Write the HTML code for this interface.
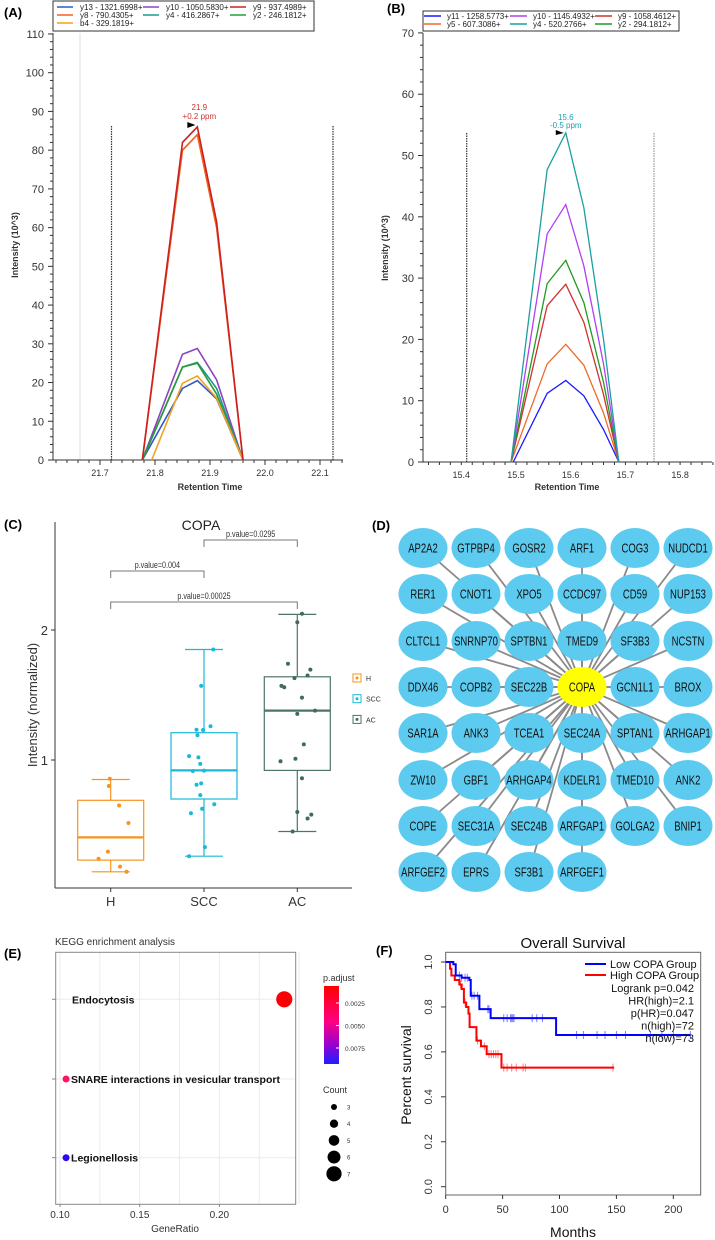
<!DOCTYPE html>
<html><head><meta charset="utf-8">
<style>
html,body{margin:0;padding:0;background:#fff;}
svg{display:block;font-family:"Liberation Sans",sans-serif;}
</style></head>
<body>
<svg id="fig" width="715" height="1240" viewBox="0 0 715 1240" xmlns="http://www.w3.org/2000/svg">
<g id="gA"></g>
<g id="gB"></g>
<g id="gC"></g>
<g id="gD"></g>
<g id="gE"></g>
<g id="gF"></g>
</svg>
<script>
// ---------- Panel A data ----------
const aRT = [21.777, 21.850, 21.877, 21.912, 21.960];
const aNames = ["y13 - 1321.6998+","y10 - 1050.5830+","y9 - 937.4989+","y8 - 790.4305+","y4 - 416.2867+","y2 - 246.1812+","b4 - 329.1819+"];
const aColors = ["#2e5cc0","#8e44c0","#cc2020","#f06020","#1a9a8a","#2a9a3a","#f5a020"];
const aY13 = [0,18.5,20.5,15.8,0];
const aY10 = [0,27.3,28.8,20.7,0];
const aY9 = [0,82,86,61.5,0];
const aY8 = [0,80,84,60,0];
const aY4 = [0,24,25.2,18.5,0];
const aY2 = [0,24,25,17,0];
const aB4 = [0,19.8,21.7,16,0];
const aXTicks = [21.7,21.8,21.9,22.0,22.1];
const aYTicks = [0,10,20,30,40,50,60,70,80,90,100,110];
// ---------- Panel B data ----------
const bRT = [15.491, 15.557, 15.591, 15.624, 15.660, 15.688];
const bNames = ["y11 - 1258.5773+","y10 - 1145.4932+","y9 - 1058.4612+","y5 - 607.3086+","y4 - 520.2766+","y2 - 294.1812+"];
const bColors = ["#1a1aff","#b040f0","#d03030","#f06a2a","#1aa0a0","#209a20"];
const bY11 = [0,11.2,13.3,10.8,5.3,0];
const bY10 = [0,37.2,42,32,16,0];
const bY9 = [0,25.5,29,22.8,11,0];
const bY5 = [0,16,19.2,15.8,8,0];
const bY4 = [0,47.7,53.7,41.5,20,0];
const bY2 = [0,29.1,32.9,26,13,0];
const bXTicks = [15.4,15.5,15.6,15.7,15.8];
const bYTicks = [0,10,20,30,40,50,60,70];
// ---------- Panel C data ----------
const cGroups = ["H","SCC","AC"];
const cColors = ["#f7941d","#1cb8d8","#3f6b5c"];
const cBoxColors = ["#f7941d","#1cb8d8","#4d7566"];
const cMin = [0.14,0.26,0.45];
const cQ1 = [0.23,0.70,0.92];
const cMed = [0.405,0.92,1.38];
const cQ3 = [0.69,1.21,1.64];
const cMax = [0.85,1.85,2.12];
const cH = [0.856,0.80,0.65,0.515,0.295,0.24,0.18,0.14];
const cSCC = [1.85,1.57,1.26,1.233,1.231,1.19,1.03,1.02,0.97,0.915,0.918,0.81,0.82,0.73,0.66,0.625,0.59,0.33,0.26];
const cAC = [2.125,2.06,1.74,1.695,1.63,1.65,1.57,1.56,1.48,1.355,1.38,1.12,0.99,1.01,0.86,0.60,0.58,0.55,0.45];
const cJitH = [-0.01,-0.02,0.09,0.19,-0.03,-0.13,0.10,0.17];
const cJitSCC = [0.10,-0.03,0.07,-0.08,-0.01,-0.07,-0.16,-0.06,-0.04,-0.12,0,-0.08,-0.03,-0.04,0.11,-0.02,-0.14,0.01,-0.16];
const cJitAC = [0.05,0,-0.10,0.14,-0.03,0.11,-0.17,-0.14,0.05,0,0.19,0.07,-0.18,-0.02,0.05,0,0.15,0.11,-0.05];
const cYTicks = [1,2];
const cPvals = ["p.value=0.004","p.value=0.00025","p.value=0.0295"];
// ---------- Panel D data ----------
const dRows = [
 ["AP2A2","GTPBP4","GOSR2","ARF1","COG3","NUDCD1"],
 ["RER1","CNOT1","XPO5","CCDC97","CD59","NUP153"],
 ["CLTCL1","SNRNP70","SPTBN1","TMED9","SF3B3","NCSTN"],
 ["DDX46","COPB2","SEC22B","COPA","GCN1L1","BROX"],
 ["SAR1A","ANK3","TCEA1","SEC24A","SPTAN1","ARHGAP1"],
 ["ZW10","GBF1","ARHGAP4","KDELR1","TMED10","ANK2"],
 ["COPE","SEC31A","SEC24B","ARFGAP1","GOLGA2","BNIP1"],
 ["ARFGEF2","EPRS","SF3B1","ARFGEF1"]];
// ---------- Panel E data ----------
const eTerms = ["Endocytosis","SNARE interactions in vesicular transport","Legionellosis"];
const eRatio = [0.2407,0.1038,0.1038];
const eCount = [7,3,3];
const ePadj = [0.0012,0.0030,0.0085];
const eXTicks = [0.10,0.15,0.20];
const eCountLegend = [3,4,5,6,7];
const ePadjTicks = ["0.0025","0.0050","0.0075"];
// ---------- Panel F data ----------
const fLowT = [0,6.7,8.8,14,20.8,22,29.6,39.5,97,215];
const fLowS = [1.0,0.99,0.94,0.93,0.92,0.85,0.79,0.75,0.675,0.675];
const fHighT = [0,3.8,5,8,12,14,16,18,20,21,27,31,36,49,148];
const fHighS = [1.0,0.97,0.94,0.92,0.90,0.88,0.82,0.80,0.77,0.71,0.65,0.625,0.59,0.53,0.53];
const fLowCens = [12,14,17,19,23,25,28,37,38,51,54,57,58,59,60,76,80,85,115,121,133,140,150,158,180,190,200,215];
const fHighCens = [13,17,28,34,38,40,42,44,46,51,54,58,62,68,70,147];
const fXTicks = [0,50,100,150,200];
const fYTicks = [0,0.2,0.4,0.6,0.8,1.0];
const fStats = ["Logrank p=0.042","HR(high)=2.1","p(HR)=0.047","n(high)=72","n(low)=73"];

const NS="http://www.w3.org/2000/svg";
function mk(parent,tag,attrs,text){const e=document.createElementNS(NS,tag);for(const k in attrs)e.setAttribute(k,attrs[k]);if(text!==undefined)e.textContent=text;parent.appendChild(e);return e;}

// ===== Panel A =====
(function(){
 const g=document.getElementById('gA');
 const xA=rt=>100+(rt-21.7)*550, yA=v=>460-v*3.873;
 let t=mk(g,'text',{x:4,y:17,'font-size':13,'font-weight':'bold'},'(A)');
 
 let lb=mk(g,'rect',{x:53,y:1,width:261,height:30,fill:'#fff',stroke:'#333','stroke-width':1});
 
 const lx=[57,143,230], ly=[7,15,23];
 const order=[0,1,2,3,4,5,6];
 order.forEach((i,k)=>{const cx=lx[k%3],cy=ly[Math.floor(k/3)];
  let l=mk(g,'line',{x1:cx,x2:cx+16,y1:cy,y2:cy,stroke:aColors[i],'stroke-width':1.5});
  
  mk(g,'text',{x:cx+23,y:cy+3,'font-size':8,fill:'#222'},aNames[i]);});
 mk(g,'line',{x1:80,x2:80,y1:33,y2:460,stroke:'#ddd','stroke-width':1});
 mk(g,'line',{x1:111.5,x2:111.5,y1:126,y2:460,stroke:'#333','stroke-width':1.2,'stroke-dasharray':'1.5,1'});
 mk(g,'line',{x1:333,x2:333,y1:126,y2:460,stroke:'#333','stroke-width':1.2,'stroke-dasharray':'1.5,1'});
 mk(g,'line',{x1:53,x2:53,y1:33,y2:460,stroke:'#333'});
 mk(g,'line',{x1:53,x2:343,y1:460,y2:460,stroke:'#333'});
 for(let v=0;v<=110;v+=2){const y=yA(v);mk(g,'line',{x1:v%10===0?48:50,x2:53,y1:y,y2:y,stroke:'#333'});}
 aYTicks.forEach(v=>{mk(g,'text',{x:44,y:yA(v)+4,'font-size':11,'text-anchor':'end',fill:'#333'},v);});
 for(let r=21.62;r<=22.15;r+=0.02){const x=xA(r);mk(g,'line',{x1:x,x2:x,y1:460,y2:Math.abs((r*10)-Math.round(r*10))<0.01?465:463,stroke:'#333'});}
 aXTicks.forEach(r=>mk(g,'text',{x:xA(r),y:476,'font-size':9,'text-anchor':'middle',fill:'#333'},r.toFixed(1)));
 let at=mk(g,'text',{x:xA(21.9),y:490,'font-size':9,'font-weight':'bold','text-anchor':'middle',fill:'#333'},'Retention Time');
 
 let yt=mk(g,'text',{x:0,y:0,'font-size':9,'font-weight':'bold','text-anchor':'middle',fill:'#333',transform:'translate(18,245) rotate(-90)'},'Intensity (10^3)');
 
 const series=[aY13,aY10,aY4,aY2,aB4,aY8,aY9]; const sc=[0,1,4,5,6,3,2];
 series.forEach((s,k)=>{const pts=s.map((v,i)=>xA(aRT[i]+(sc[k]===6&&i===0?0.017:0))+','+yA(v)).join(' ');
  let p=mk(g,'polyline',{points:pts,fill:'none',stroke:aColors[sc[k]],'stroke-width':1.6});
  });
 mk(g,'text',{x:xA(aRT[2])+2,y:110,'font-size':8,'text-anchor':'middle',fill:'#d03030'},'21.9');
 mk(g,'text',{x:xA(aRT[2])+2,y:119,'font-size':8,'text-anchor':'middle',fill:'#d03030'},'+0.2 ppm');
 mk(g,'polygon',{points:`${xA(aRT[2])-10},122 ${xA(aRT[2])-2},125 ${xA(aRT[2])-10},128`,fill:'#000'});
})();

// ===== Panel B =====
(function(){
 const g=document.getElementById('gB');
 const xB=rt=>516+(rt-15.5)*547, yB=v=>462-v*6.13;
 let t=mk(g,'text',{x:387,y:13,'font-size':13,'font-weight':'bold'},'(B)');
 
 let lb=mk(g,'rect',{x:423,y:11,width:256,height:20,fill:'#fff',stroke:'#333','stroke-width':1});
 
 const lx=[424,510,595], ly=[16,24];
 bNames.forEach((n,k)=>{const cx=lx[k%3],cy=ly[Math.floor(k/3)];
  let l=mk(g,'line',{x1:cx,x2:cx+17,y1:cy,y2:cy,stroke:bColors[k],'stroke-width':1.5});
  
  mk(g,'text',{x:cx+23,y:cy+3,'font-size':8,fill:'#222'},n);});
 mk(g,'line',{x1:466.7,x2:466.7,y1:133,y2:462,stroke:'#333','stroke-width':1.2,'stroke-dasharray':'1.5,1'});
 mk(g,'line',{x1:654,x2:654,y1:133,y2:462,stroke:'#999','stroke-width':1.2,'stroke-dasharray':'1.5,1'});
 mk(g,'line',{x1:423,x2:423,y1:33,y2:462,stroke:'#333'});
 mk(g,'line',{x1:423,x2:712,y1:462,y2:462,stroke:'#333'});
 for(let v=0;v<=70;v+=2){const y=yB(v);mk(g,'line',{x1:v%10===0?418:420,x2:423,y1:y,y2:y,stroke:'#333'});}
 bYTicks.forEach(v=>mk(g,'text',{x:414,y:yB(v)+4,'font-size':11,'text-anchor':'end',fill:'#333'},v));
 for(let r=15.34;r<=15.86;r+=0.02){const x=xB(r);mk(g,'line',{x1:x,x2:x,y1:462,y2:465,stroke:'#333'});}
 bXTicks.forEach(r=>mk(g,'text',{x:xB(r),y:478,'font-size':9,'text-anchor':'middle',fill:'#333'},r.toFixed(1)));
 let at=mk(g,'text',{x:567,y:490,'font-size':9,'font-weight':'bold','text-anchor':'middle',fill:'#333'},'Retention Time');
 
 let yt=mk(g,'text',{x:0,y:0,'font-size':9,'font-weight':'bold','text-anchor':'middle',fill:'#333',transform:'translate(388,248) rotate(-90)'},'Intensity (10^3)');
 
 const series=[bY11,bY5,bY9,bY2,bY10,bY4]; const sc=[0,3,2,5,1,4];
 series.forEach((s,k)=>{const pts=s.map((v,i)=>xB(bRT[i]+(i===0&&sc[k]===0?0.004:0))+','+yB(v)).join(' ');
  let p=mk(g,'polyline',{points:pts,fill:'none',stroke:bColors[sc[k]],'stroke-width':1.3});
  });
 const px=xB(bRT[2]);
 mk(g,'text',{x:px,y:120,'font-size':8,'text-anchor':'middle',fill:'#1aa0b0'},'15.6');
 mk(g,'text',{x:px,y:128,'font-size':8,'text-anchor':'middle',fill:'#1aa0b0'},'-0.5 ppm');
 mk(g,'polygon',{points:`${px-10},130 ${px-2},133 ${px-10},135`,fill:'#000'});
})();

// ===== Panel C =====
(function(){
 const g=document.getElementById('gC');
 const xC=i=>110.7+i*93.3, yC=v=>890-v*130;
 let t=mk(g,'text',{x:4,y:529,'font-size':13,'font-weight':'bold'},'(C)');
 
 let ti=mk(g,'text',{x:201,y:530,'font-size':14,'text-anchor':'middle',fill:'#222'},'COPA');
 
 mk(g,'line',{x1:55,x2:55,y1:522,y2:888,stroke:'#333'});
 mk(g,'line',{x1:55,x2:352,y1:888,y2:888,stroke:'#333'});
 cYTicks.forEach(v=>{mk(g,'line',{x1:51,x2:55,y1:yC(v),y2:yC(v),stroke:'#333'});
  mk(g,'text',{x:48,y:yC(v)+5,'font-size':13,'text-anchor':'end',fill:'#333'},v);});
 cGroups.forEach((n,i)=>{mk(g,'line',{x1:xC(i),x2:xC(i),y1:888,y2:892,stroke:'#333'});
  let l=mk(g,'text',{x:xC(i),y:906,'font-size':13,'text-anchor':'middle',fill:'#333'},n);
  });
 let yt=mk(g,'text',{x:0,y:0,'font-size':13,'text-anchor':'middle',fill:'#333',transform:'translate(37,705) rotate(-90)'},'Intensity (normalized)');
 
 const pts=[cH,cSCC,cAC], jit=[cJitH,cJitSCC,cJitAC];
 cGroups.forEach((n,i)=>{const x=xC(i),c=cBoxColors[i],hw=33;
  const bg=mk(g,'g',{});
  mk(bg,'line',{x1:x,x2:x,y1:yC(cMin[i]),y2:yC(cQ1[i]),stroke:c,'stroke-width':1.2});
  mk(bg,'line',{x1:x,x2:x,y1:yC(cQ3[i]),y2:yC(cMax[i]),stroke:c,'stroke-width':1.2});
  mk(bg,'line',{x1:x-19,x2:x+19,y1:yC(cMin[i]),y2:yC(cMin[i]),stroke:c,'stroke-width':1.2});
  mk(bg,'line',{x1:x-19,x2:x+19,y1:yC(cMax[i]),y2:yC(cMax[i]),stroke:c,'stroke-width':1.2});
  mk(bg,'rect',{x:x-hw,y:yC(cQ3[i]),width:2*hw,height:yC(cQ1[i])-yC(cQ3[i]),fill:'none',stroke:c,'stroke-width':1.2});
  mk(bg,'line',{x1:x-hw,x2:x+hw,y1:yC(cMed[i]),y2:yC(cMed[i]),stroke:c,'stroke-width':2.2});
  pts[i].forEach((v,k)=>{let d=mk(g,'circle',{cx:x+jit[i][k]*93.3,cy:yC(v),r:2,fill:cColors[i]});
   });
 });
 const br=[[0,1,571,cPvals[0]],[0,2,602,cPvals[1]],[1,2,540,cPvals[2]]];
 br.forEach(b=>{const x1=xC(b[0]),x2=xC(b[1]);
  let p=mk(g,'path',{d:`M${x1},${b[2]+7}V${b[2]}H${x2}V${b[2]+7}`,fill:'none',stroke:'#777','stroke-width':1});
  
  mk(g,'text',{x:0,y:0,transform:`translate(${(x1+x2)/2},${b[2]-3}) scale(0.8,1)`,'font-size':9,'text-anchor':'middle',fill:'#333'},b[3]);});
 cGroups.forEach((n,i)=>{const y=678+i*20.7;
  let r=mk(g,'rect',{x:353,y:y-4,width:8,height:8,fill:'none',stroke:cBoxColors[i],'stroke-width':1});
  
  mk(g,'circle',{cx:357,cy:y,r:1.5,fill:cColors[i]});
  mk(g,'text',{x:366,y:y+3,'font-size':7,fill:'#333'},n);});
})();

// ===== Panel D =====
(function(){
 const g=document.getElementById('gD');
 const colX=[423,476,529,582,635,688], rowY=[548,594,641,687,733,780,826,872];
 let t=mk(g,'text',{x:372,y:530,'font-size':13,'font-weight':'bold'},'(D)');
 
 const cx=colX[3],cy=rowY[3];
 const eg=mk(g,'g',{});
 dRows.forEach((row,r)=>row.forEach((n,c)=>{if(n!=='COPA')mk(eg,'line',{x1:colX[c],y1:rowY[r],x2:cx,y2:cy,stroke:'#8a8a8a','stroke-width':1.8});}));
 dRows.forEach((row,r)=>row.forEach((n,c)=>{
  const ng=mk(g,'g',{});
  mk(ng,'ellipse',{cx:colX[c],cy:rowY[r],rx:24.5,ry:20,fill:n==='COPA'?'#ffff00':'#5ccbef'});
  mk(ng,'text',{x:0,y:0,transform:`translate(${colX[c]},${rowY[r]+4.5}) scale(0.76,1)`,'font-size':12.5,'text-anchor':'middle',fill:'#111'},n);
 }));
})();

// ===== Panel E =====
(function(){
 const g=document.getElementById('gE');
 const xE=r=>60+(r-0.10)/0.05*79.7, rowY=[999.3,1079,1157.7];
 const rE=c=>3.5+(c-3)*1.15;
 let t=mk(g,'text',{x:4,y:958,'font-size':13,'font-weight':'bold'},'(E)');
 
 let ti=mk(g,'text',{x:55,y:945,'font-size':10,fill:'#333'},'KEGG enrichment analysis');
 
 for(let r=0.1;r<0.25;r+=0.025)mk(g,'line',{x1:xE(r),x2:xE(r),y1:952,y2:1204,stroke:'#ebebeb','stroke-width':1});
 rowY.forEach(y=>mk(g,'line',{x1:56,x2:295,y1:y,y2:y,stroke:'#ebebeb','stroke-width':1}));
 mk(g,'rect',{x:55.7,y:952.3,width:240,height:252,fill:'none',stroke:'#888','stroke-width':1});
 eXTicks.forEach(r=>{mk(g,'line',{x1:xE(r),x2:xE(r),y1:1204,y2:1207,stroke:'#888'});
  mk(g,'text',{x:xE(r),y:1218,'font-size':10,'text-anchor':'middle',fill:'#333'},r.toFixed(2));});
 rowY.forEach(y=>mk(g,'line',{x1:52,x2:55.7,y1:y,y2:y,stroke:'#888'}));
 let xt=mk(g,'text',{x:175,y:1232,'font-size':10,'text-anchor':'middle',fill:'#333'},'GeneRatio');
 
 const col=p=>{const f=Math.min(1,Math.max(0,(p-0.001)/0.0080));const r=Math.round(255*(1-f)+30*f),b=Math.round(255*f);return `rgb(${r},${Math.round(10*f)},${b})`;};
 eTerms.forEach((n,i)=>{let d=mk(g,'circle',{cx:xE(eRatio[i]),cy:rowY[i],r:rE(eCount[i]),fill:i===1?'#ff1464':col(ePadj[i])});
  
  const lx=i===0?72:xE(eRatio[i])+5;
  mk(g,'text',{x:lx,y:rowY[i]+4,'font-size':10.5,'font-weight':'bold',fill:'#111'},n);});
 const defs=mk(g,'defs',{});const lg=mk(defs,'linearGradient',{id:'pgrad',x1:0,y1:0,x2:0,y2:1});
 mk(lg,'stop',{offset:'0','stop-color':'#ff0000'});mk(lg,'stop',{offset:'0.45','stop-color':'#ff0080'});
 mk(lg,'stop',{offset:'0.75','stop-color':'#9a00d0'});mk(lg,'stop',{offset:'1','stop-color':'#1e1eff'});
 mk(g,'text',{x:323,y:981,'font-size':9,fill:'#333'},'p.adjust');
 let cb=mk(g,'rect',{x:324,y:986,width:15,height:78,fill:'url(#pgrad)'});
 
 ePadjTicks.forEach((s,i)=>{const y=1003+i*22.5;mk(g,'line',{x1:336,x2:339,y1:y,y2:y,stroke:'#fff'});
  mk(g,'text',{x:345,y:y+3,'font-size':6.5,fill:'#333'},s);});
 mk(g,'text',{x:323,y:1093,'font-size':9,fill:'#333'},'Count');
 eCountLegend.forEach((c,i)=>{const y=1107+i*16.7;let d=mk(g,'circle',{cx:334,cy:y,r:rE(c)-0.5,fill:'#000'});
  
  mk(g,'text',{x:347,y:y+2.5,'font-size':6,fill:'#333'},c);});
})();

// ===== Panel F =====
(function(){
 const g=document.getElementById('gF');
 const xF=m=>445.7+m*1.138, yF=s=>1186.7-s*224.7;
 let t=mk(g,'text',{x:376,y:955,'font-size':13,'font-weight':'bold'},'(F)');
 
 let ti=mk(g,'text',{x:573,y:948,'font-size':15,'text-anchor':'middle',fill:'#111'},'Overall Survival');
 
 mk(g,'rect',{x:445.7,y:952.3,width:255,height:242.7,fill:'none',stroke:'#666','stroke-width':1});
 fYTicks.forEach(s=>{mk(g,'line',{x1:441,x2:445.7,y1:yF(s),y2:yF(s),stroke:'#333'});
  mk(g,'text',{x:0,y:0,'font-size':11,'text-anchor':'middle',fill:'#333',transform:`translate(432,${yF(s)}) rotate(-90)`},s.toFixed(1));});
 fXTicks.forEach(m=>{mk(g,'line',{x1:xF(m),x2:xF(m),y1:1195,y2:1199,stroke:'#333'});
  mk(g,'text',{x:xF(m),y:1213,'font-size':11,'text-anchor':'middle',fill:'#333'},m);});
 let xt=mk(g,'text',{x:573,y:1237,'font-size':14,'text-anchor':'middle',fill:'#111'},'Months');
 
 let yt=mk(g,'text',{x:0,y:0,'font-size':14,'text-anchor':'middle',fill:'#111',transform:'translate(411,1075) rotate(-90)'},'Percent survival');
 
 function step(T,S){let d=`M${xF(T[0])},${yF(S[0])}`;for(let i=1;i<T.length;i++){d+=`H${xF(T[i])}V${yF(S[i])}`;}return d;}
 function level(T,S,m){let s=S[0];for(let i=0;i<T.length;i++){if(T[i]<=m)s=S[i];}return s;}
 [[fHighT,fHighS,fHighCens,'#ff0000','high'],[fLowT,fLowS,fLowCens,'#0000ff','low']].forEach(a=>{
  let p=mk(g,'path',{d:step(a[0],a[1]),fill:'none',stroke:a[3],'stroke-width':2});
  
  a[2].forEach(m=>{const x=xF(m),y=yF(level(a[0],a[1],m));
   mk(g,'path',{d:`M${x},${y-4}V${y+4}`,stroke:a[3],'stroke-width':1,opacity:0.5});});
 });
 const lg=mk(g,'g',{});
 mk(lg,'line',{x1:585,x2:606,y1:964,y2:964,stroke:'#0000ff','stroke-width':2});
 mk(lg,'line',{x1:585,x2:606,y1:975,y2:975,stroke:'#ff0000','stroke-width':2});
 mk(lg,'text',{x:610,y:968,'font-size':11,fill:'#111'},'Low COPA Group');
 mk(lg,'text',{x:610,y:979,'font-size':11,fill:'#111'},'High COPA Group');
 fStats.forEach((s,i)=>mk(lg,'text',{x:694,y:992+i*12.5,'font-size':11,'text-anchor':'end',fill:'#111'},s));
})();
</script>
</body></html>
